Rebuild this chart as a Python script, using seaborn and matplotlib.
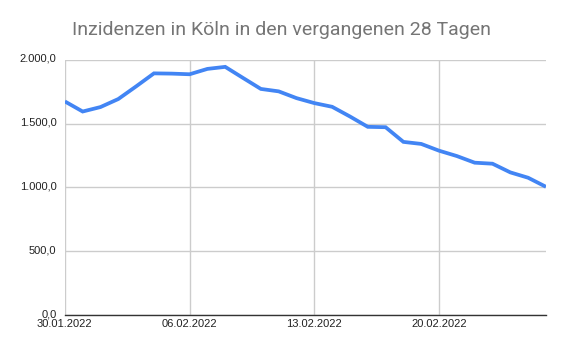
import pandas as pd
import matplotlib
matplotlib.use('Agg')
import matplotlib.pyplot as plt
import matplotlib.dates as mdates
from matplotlib.ticker import FuncFormatter
from matplotlib.transforms import ScaledTranslation
import seaborn as sns

# Daily incidence values for Cologne, 30.01.2022 - 26.02.2022
start_date = '2022-01-30'
incidence = [1674, 1595, 1630, 1693, 1792, 1894, 1892, 1887, 1929, 1945,
             1858, 1772, 1753, 1700, 1661, 1632, 1556, 1475, 1472, 1357,
             1341, 1288, 1246, 1194, 1186, 1118, 1076, 1005]
title = 'Inzidenzen in Köln in den vergangenen 28 Tagen'

dates = pd.date_range(start_date, periods=len(incidence), freq='D')
df = pd.DataFrame({'date': dates, 'incidence': incidence})

sns.set_theme(style='white')
plt.rcParams['font.family'] = ['Liberation Sans', 'DejaVu Sans']

fig = plt.figure(figsize=(5.64, 3.52), dpi=100)
ax = fig.add_axes([0.115, 0.105, 0.853, 0.725])

sns.lineplot(data=df, x='date', y='incidence', ax=ax, color='#4285f4',
             linewidth=2.7, solid_capstyle='butt', solid_joinstyle='miter')

ax.set_xlim(dates[0], dates[-1])
ax.set_ylim(0, 2000)
ax.set_yticks([0, 500, 1000, 1500, 2000])
ax.yaxis.set_major_formatter(FuncFormatter(
    lambda v, p: f'{v:,.1f}'.replace(',', 'X').replace('.', ',').replace('X', '.')))
ax.set_xticks(dates[::7])
ax.xaxis.set_major_formatter(mdates.DateFormatter('%d.%m.%Y'))

ax.grid(True, color='#cccccc', linewidth=1)
ax.set_axisbelow(True)
for s in ['top', 'right', 'left']:
    ax.spines[s].set_visible(False)
ax.spines['bottom'].set_color('#333333')
ax.spines['bottom'].set_linewidth(1)
ax.tick_params(axis='both', length=0, labelsize=8, colors='#222222')
ax.tick_params(axis='y', pad=6)
ax.tick_params(axis='x', pad=3)
ax.set_xlabel('')
ax.set_ylabel('')

# nudge y labels up a little so "0,0" clears the date label
shift = ScaledTranslation(0, 2 / 100, fig.dpi_scale_trans)
for lbl in ax.get_yticklabels():
    lbl.set_transform(lbl.get_transform() + shift)

fig.text(0.5, 0.915, title, ha='center', va='center', fontsize=14,
         color='#757575', family=['Roboto', 'DejaVu Sans'])

fig.savefig('out.png', dpi=100, facecolor='white')
